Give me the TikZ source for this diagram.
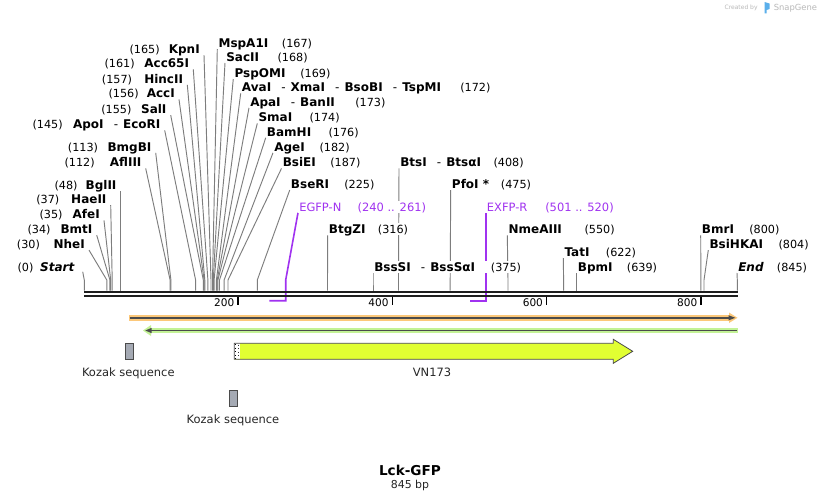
\documentclass[tikz,border=0pt]{standalone}
\usepackage{fontspec}
\setmainfont{DejaVu Sans}
\usetikzlibrary{calc}
\pgfdeclarelayer{bg}
\pgfdeclarelayer{mid}
\pgfsetlayers{bg,mid,main}
\definecolor{cutgray}{RGB}{125,125,125}
\definecolor{bb}{RGB}{30,30,30}
\definecolor{prim}{RGB}{160,50,240}
\definecolor{orng}{RGB}{252,200,122}
\definecolor{grn}{RGB}{195,242,150}
\definecolor{featdark}{RGB}{75,75,75}
\definecolor{vnyel}{RGB}{225,255,50}
\definecolor{kozg}{RGB}{165,170,180}
\definecolor{wm}{RGB}{185,185,185}
\definecolor{wmblue}{RGB}{90,175,235}
\newcommand\dsep{\hspace{7.6pt}{\mdseries -}\hspace{3.8pt}}
\tikzset{
  nm/.style={font=\fontsize{9}{10}\selectfont\bfseries, inner sep=0pt},
  num/.style={font=\fontsize{8.4}{10}\selectfont, inner sep=0pt},
  cut/.style={draw=cutgray, line width=0.7pt},
  primline/.style={draw=prim, line width=1.2pt},
  plab/.style={font=\fontsize{8.6}{10}\selectfont, text=prim, inner sep=0pt},
  flab/.style={font=\fontsize{8.6}{10}\selectfont, inner sep=0pt, text=black!85},
  tickl/.style={font=\fontsize{7.9}{9}\selectfont, inner sep=0pt},
  tickm/.style={draw=black, line width=1.1pt},
  kozbox/.style={draw=featdark, fill=kozg, line width=0.6pt, inner sep=0pt, minimum width=6pt, minimum height=12pt},
}
% right-hand label: id, name, number, x of name, y centre, x of number, site x
\newcommand\Rlab[7]{%
  \node[nm, anchor=base west] (n#1) at (#4,#5+4.3) {#2};
  \node[num, anchor=base west] (c#1) at (#6,#5+4.3) {#3};
  \begin{pgfonlayer}{mid}
    \fill[white] ([shift={(-1,1.5)}]n#1.base west) rectangle ([shift={(1,-10.5)}]c#1.base east);
  \end{pgfonlayer}
  \coordinate (s#1) at (#7,290.5);
  \coordinate (k#1) at (#7,280);
  \begin{pgfonlayer}{bg}
    \draw[cut] ([shift={(-1,1.8)}]n#1.base west) -- (k#1) -- (s#1);
  \end{pgfonlayer}
}
% left-hand label: id, name, number, right x of name, y centre, x of number, site x
\newcommand\Llab[7]{%
  \node[nm, anchor=base east] (n#1) at (#4,#5+4.3) {#2};
  \node[num, anchor=base west] (c#1) at (#6,#5+4.3) {#3};
  \begin{pgfonlayer}{mid}
    \fill[white] ([shift={(-1,1.5)}]c#1.base west) rectangle ([shift={(1,-10.5)}]n#1.base east);
  \end{pgfonlayer}
  \coordinate (s#1) at (#7,290.5);
  \coordinate (k#1) at (#7,280);
  \begin{pgfonlayer}{bg}
    \draw[cut] ([shift={(4,1.8)}]n#1.base east) -- (k#1) -- (s#1);
  \end{pgfonlayer}
}
\begin{document}
\begin{tikzpicture}[x=0.75pt,y=-0.75pt]
\useasboundingbox (0,0) rectangle (822,501);
\begin{pgfonlayer}{bg}
  \fill[white] (0,0) rectangle (822,501);
\end{pgfonlayer}

% watermark
\node[font=\fontsize{4.5}{5}\selectfont, text=wm, anchor=base west, inner sep=0pt] (wm1) at (724.3,9.5) {Created by};
\fill[wmblue] (764.5,2) -- (769.5,3.5) -- (769.5,9) -- (766.5,10) -- (766.5,13.3) -- (764.5,13.3) -- cycle;
\node[font=\fontsize{6.3}{7}\selectfont, text=wm, anchor=base west, inner sep=0pt] (wm2) at (773.5,10) {SnapGene};

% left labels
\Llab{kpn}{KpnI}{(165)}{200}{49}{129.3}{211.0}
\Llab{accsf}{Acc65I}{(161)}{189.3}{63.3}{104.3}{207.9}
\Llab{hinc}{HincII}{(157)}{183.3}{78.7}{101.7}{204.8}
\Llab{acc}{AccI}{(156)}{175}{93.3}{108.3}{204.1}
\Llab{sal}{SalI}{(155)}{166.7}{109}{101}{203.3}
\Llab{apo}{ApoI\dsep EcoRI}{(145)}{160.7}{124.3}{32.3}{195.6}
\Llab{bmgb}{BmgBI}{(113)}{151.7}{146.7}{67.7}{170.9}
\Llab{afl}{AflIII}{(112)}{141.7}{162.3}{64.3}{170.1}
\Llab{bgl}{BglII}{(48)}{116.7}{185}{54.3}{120.7}
\Llab{hae}{HaeII}{(37)}{106.7}{199}{36}{112.2}
\Llab{afe}{AfeI}{(35)}{100}{214.3}{39.3}{110.7}
\Llab{bmt}{BmtI}{(34)}{92.7}{229}{27.3}{109.9}
\Llab{nhe}{NheI}{(30)}{85}{244}{16.7}{106.8}

% start
\node[nm, anchor=base east] (nstart) at (75,271.6) {\textit{Start}};
\node[num, anchor=base west] (cstart) at (17.3,271.6) {(0)};
\coordinate (kstart) at (84.3,280);
\coordinate (sstart) at (84.3,290.5);
\begin{pgfonlayer}{bg}
  \draw[cut] ([shift={(7.7,0.2)}]nstart.base east) -- (kstart) -- (sstart);
\end{pgfonlayer}

% right labels
\Rlab{mspa}{MspA1I}{(167)}{218.3}{42.7}{281.7}{212.5}
\Rlab{sac}{SacII}{(168)}{226}{56.7}{277.3}{213.3}
\Rlab{psp}{PspOMI}{(169)}{234.3}{72.7}{300}{214.1}
\Rlab{ava}{AvaI\dsep XmaI\dsep BsoBI\dsep TspMI}{(172)}{241.7}{87.3}{460}{216.4}
\Rlab{apa}{ApaI\dsep BanII}{(173)}{250}{101.7}{355}{217.2}
\Rlab{sma}{SmaI}{(174)}{258.3}{117.3}{309.3}{217.9}
\Rlab{bam}{BamHI}{(176)}{266.7}{131.7}{328.3}{219.5}
\Rlab{age}{AgeI}{(182)}{274}{146.7}{319.3}{224.1}
\Rlab{bsie}{BsiEI}{(187)}{282.5}{162.3}{330}{228.0}
\Rlab{bser}{BseRI}{(225)}{290.7}{184}{344}{257.3}
\Rlab{btgz}{BtgZI}{(316)}{328.7}{229.3}{377.7}{327.5}
\Rlab{bsss}{BssSI\dsep BssSαI}{(375)}{374}{266.7}{490.7}{373.0}
\Rlab{bts}{BtsI\dsep BtsαI}{(408)}{400}{162.3}{493.3}{398.5}
\Rlab{pfo}{PfoI *}{(475)}{451.7}{184}{500.7}{450.2}
\Rlab{nme}{NmeAIII}{(550)}{508.3}{229.3}{584.3}{508.0}
\Rlab{tat}{TatI}{(622)}{564.3}{251.7}{605.7}{563.6}
\Rlab{bpm}{BpmI}{(639)}{577.7}{267.3}{626.7}{576.7}
\Rlab{bmr}{BmrI}{(800)}{701.7}{229.3}{749}{700.9}
\Rlab{bsih}{BsiHKAI}{(804)}{709.3}{244}{778.3}{704.0}
\Rlab{end}{\textit{End}}{(845)}{738}{266.7}{776.7}{737.3}

% primers
\node[plab, anchor=base west] (egfp) at (299,211) {EGFP-N};
\node[plab, anchor=base west] (egfpn) at (357.3,211) {(240 .. 261)};
\node[plab, anchor=base west] (exfp) at (486.7,211) {EXFP-R};
\node[plab, anchor=base west] (exfpn) at (545,211) {(501 .. 520)};
\begin{pgfonlayer}{mid}
  \fill[white] ([shift={(-1,1.5)}]egfp.base west) rectangle ([shift={(1,-10.5)}]egfpn.base east);
  \fill[white] ([shift={(-1,1.5)}]exfp.base west) rectangle ([shift={(1,-10.5)}]exfpn.base east);
\end{pgfonlayer}
\coordinate (egA) at (269.3,300.7);
\coordinate (egB) at (285.7,300.7);
\coordinate (egC) at (285.7,280);
\coordinate (exA) at (470,300.7);
\coordinate (exB) at (485.7,300.7);
\coordinate (exT) at ([shift={(-1,1.8)}]exfp.base west);
\begin{pgfonlayer}{bg}
  \draw[primline] (egA) -- (egB) -- (egC) -- ([shift={(-1,1.8)}]egfp.base west);
  \draw[primline] (exA) -- (exB) -- (exB |- exT);
\end{pgfonlayer}

% backbone
\draw[bb, line width=2pt] (84,292) -- (737.7,292);
\draw[bb, line width=2pt] (84,296) -- (737.7,296);

% ticks
\foreach \t/\x in {200/238, 400/392.3, 600/546.7, 800/701}{
  \draw[tickm] (\x,296.5) -- (\x,305);
  \node[tickl, anchor=base east] (t\t) at (\x-3.5,306.7) {\t};
}

% orange feature
\fill[orng] (129,315) rectangle (731,320.7);
\fill[orng] (729,312.5) -- (737.5,317.8) -- (729,323) -- cycle;
\draw[featdark, line width=1.1pt] (129.5,317.8) -- (731,317.8);
\fill[featdark] (728.5,315.2) -- (735.3,317.8) -- (728.5,320.4) -- cycle;

% green feature
\fill[grn] (150,327.7) rectangle (737.5,333.3);
\fill[grn] (151,325) -- (143,330.5) -- (151,336) -- cycle;
\draw[featdark, line width=1.1pt] (149,330.5) -- (737,330.5);
\fill[featdark] (151.5,327.9) -- (145.3,330.5) -- (151.5,333.1) -- cycle;

% Kozak 1
\node[kozbox] (koz1) at (129.5,351.3) {};
\node[flab, anchor=base] (koz1l) at (128.3,376) {Kozak sequence};

% VN173 arrow
\fill[vnyel] (234.3,343.3) -- (613.3,343.3) -- (613.3,339.3) -- (632.7,351.3) -- (613.3,363.3) -- (613.3,359.3) -- (234.3,359.3) -- cycle;
\fill[white] (234.3,343.3) rectangle (239.5,359.3);
\draw[black, dotted, line width=0.7pt] (235.6,344) -- (235.6,359);
\draw[black!80, dotted, line width=0.7pt] (238.2,344.6) -- (238.2,359);
\draw[featdark, line width=0.6pt] (234.3,343.3) -- (613.3,343.3) -- (613.3,339.3) -- (632.7,351.3) -- (613.3,363.3) -- (613.3,359.3) -- (234.3,359.3) -- cycle;
\node[flab, anchor=base] (vnl) at (432,376) {VN173};

% Kozak 2
\node[kozbox] (koz2) at (233.3,398.3) {};
\node[flab, anchor=base] (koz2l) at (233,423.5) {Kozak sequence};

% title
\node[font=\fontsize{10.2}{12}\selectfont\bfseries, anchor=base, inner sep=0pt] (title) at (410,475.7) {Lck-GFP};
\node[font=\fontsize{8.2}{10}\selectfont, anchor=base, inner sep=0pt, text=black!85] (len) at (410,488.7) {845 bp};
\end{tikzpicture}
\end{document}
